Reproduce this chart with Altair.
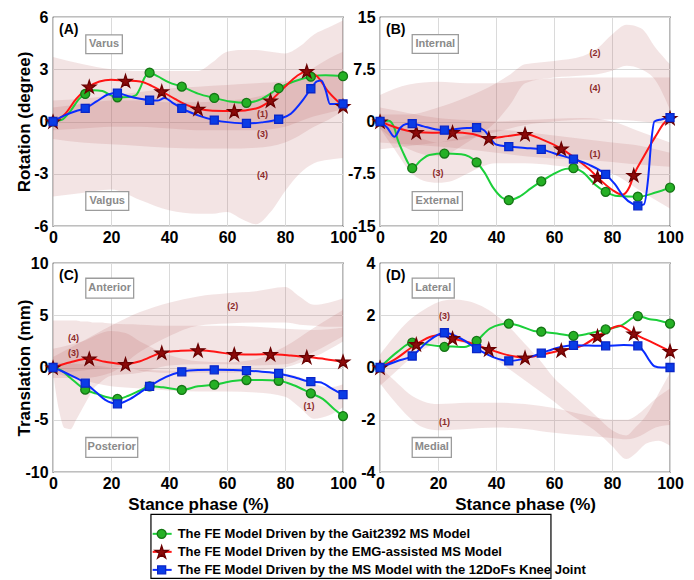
import altair as alt
import pandas as pd

FONT = "Liberation Sans"

LEGEND_LABELS = [
    "The FE Model Driven by the Gait2392 MS Model",
    "The FE Model Driven by the EMG-assisted MS Model",
    "The FE Model Driven by the MS Model with the 12DoFs Knee Joint",
]
LINE_COLORS = ["#1ccf3a", "#ff1414", "#0a2cff"]
MK_FILL = ["#25b025", "#8c0a0a", "#0a3ce6"]
MK_STROKE = ["#157515", "#6a0000", "#0a26c8"]
STAR = ("M0,-0.905L0.2245,-0.214L0.951,-0.214L0.3633,0.213L0.588,0.904L0,0.477"
        "L-0.588,0.904L-0.3633,0.213L-0.951,-0.214L-0.2245,-0.214Z")
MK_SHAPES = ["circle", STAR, "square"]
MK_SIZES = [80, 190, 64]

X_TICKS = [0, 20, 40, 60, 80, 100]
MK_X_GB = [0, 11.1, 22.2, 33.3, 44.4, 55.6, 66.7, 77.8, 88.9, 100]
MK_X_R = [0, 12.5, 25, 37.5, 50, 62.5, 75, 87.5, 100]

# ---------------- Panel A : varus/valgus rotation ----------------
A_G_MK = [0, 1.58, 1.39, 2.8, 2.0, 1.35, 1.07, 1.91, 2.57, 2.6]
A_R_MK = [0, 2.0, 2.33, 1.73, 0.73, 0.6, 1.2, 2.89, 0.88]
A_B_MK = [0, 0.75, 1.63, 1.22, 0.75, 0.08, -0.11, 0.13, 1.88, 1.01]
A_G_X = [0, 3, 6, 9, 11.1, 14, 17, 20, 22.2, 26, 28.5, 30, 31.5, 33.3, 36, 40, 44.4, 50, 55.6, 61, 66.7, 72, 77.8, 83, 88.9, 94, 100]
A_G_Y = [0, 0.1, 0.6, 1.3, 1.58, 1.8, 1.75, 1.5, 1.39, 1.4, 1.5, 1.9, 2.5, 2.8, 2.6, 2.25, 2.0, 1.6, 1.35, 1.15, 1.07, 1.3, 1.91, 2.3, 2.57, 2.65, 2.6]
A_R_X = [0, 4, 8, 12.5, 16, 20, 25, 30, 34, 37.5, 42, 46, 50, 55, 62.5, 70, 75, 80, 84, 87.5, 91, 95, 100]
A_R_Y = [0, 0.4, 1.3, 2.0, 2.3, 2.4, 2.35, 2.3, 2.05, 1.73, 1.3, 0.95, 0.73, 0.62, 0.6, 0.75, 1.2, 2.0, 2.6, 2.89, 2.6, 1.7, 0.88]
A_B_X = [0, 4, 8, 11.1, 15, 19, 22.2, 26, 30, 33.3, 36, 38.5, 41, 44.4, 50, 55.6, 61, 66.7, 72, 77.8, 82, 86, 88.9, 91, 92.5, 94, 95.5, 100]
A_B_Y = [0, 0.35, 0.6, 0.75, 1.15, 1.55, 1.63, 1.45, 1.3, 1.22, 1.2, 1.35, 1.1, 0.75, 0.35, 0.08, -0.05, -0.11, -0.05, 0.13, 0.45, 1.2, 1.88, 2.3, 2.35, 1.8, 1.0, 1.0]
A_BAND1_X = [0, 10, 20, 30, 40, 50, 60, 70, 80, 85, 90, 95, 100]
A_BAND1_LO = [-0.5, -0.4, -0.3, -0.3, -0.4, -0.5, -0.5, -0.5, -0.3, 0.0, 0.3, 0.5, 0.7]
A_BAND1_HI = [0.8, 1.0, 1.2, 1.2, 1.1, 1.1, 1.2, 1.4, 2.0, 2.6, 3.1, 3.6, 4.0]
A_BAND3_X = [0, 10, 20, 30, 40, 50, 60, 70, 80, 85, 90, 95, 100]
A_BAND3_LO = [-1.0, -1.2, -1.3, -1.4, -1.5, -1.55, -1.55, -1.5, -1.2, -0.8, -0.3, 0.1, 0.6]
A_BAND3_HI = [1.2, 1.3, 1.5, 1.7, 1.9, 2.0, 2.1, 2.2, 2.3, 2.4, 2.5, 2.6, 2.7]
A_BAND4_X = [0, 10, 20, 30, 40, 50, 55, 60, 65, 70, 75, 80, 85, 90, 95, 100]
A_BAND4_LO = [-4.3, -4.1, -3.9, -4.5, -5.1, -5.3, -5.3, -5.2, -5.6, -5.9, -5.2, -4.0, -3.0, -2.4, -2.2, -2.1]
A_BAND4_HI = [3.7, 3.3, 3.0, 2.9, 2.9, 2.9, 3.4, 4.0, 4.1, 4.1, 4.0, 3.9, 4.3, 5.0, 5.4, 5.8]

# ---------------- Panel B : internal/external rotation ----------------
B_G_MK = [0, -6.7, -4.6, -5.85, -11.3, -8.6, -6.7, -10.1, -10.8, -9.5]
B_R_MK = [0, -1.54, -1.54, -2.4, -1.8, -3.9, -8.0, -7.7, 0.5]
B_B_MK = [0, -0.3, -1.25, -0.87, -3.6, -4.0, -5.4, -7.6, -12.1, 0.56]
B_G_X = [0, 3, 5, 6, 8, 9.5, 11.1, 14, 17, 22.2, 28, 33.3, 36, 39, 42, 44.4, 48, 52, 55.6, 60, 64, 66.7, 70, 74, 77.8, 82, 88.9, 95, 100]
B_G_Y = [0, 0.1, -1.0, -2.5, -4.5, -5.8, -6.7, -5.6, -4.8, -4.6, -4.7, -5.85, -7.3, -9.5, -10.9, -11.3, -10.8, -9.6, -8.6, -7.5, -6.8, -6.7, -7.3, -9.0, -10.1, -10.7, -10.8, -10.2, -9.5]
B_R_X = [0, 5, 12.5, 18, 25, 32, 37.5, 44, 50, 56, 62.5, 68, 72, 75, 80, 83.5, 86, 87.5, 91, 93, 95.5, 97.5, 100]
B_R_Y = [0, -0.8, -1.54, -1.6, -1.54, -1.8, -2.4, -2.1, -1.8, -2.6, -3.9, -5.5, -6.8, -8.0, -9.8, -10.5, -9.4, -7.7, -5.0, -3.5, -1.8, -0.45, 0.5]
B_B_X = [0, 2.5, 5, 7, 9, 11.1, 15, 19, 22.2, 27, 30, 33.3, 36, 38, 40, 44.4, 50, 55.6, 61, 66.7, 72, 77.8, 81, 84, 87, 88.9, 91, 92.5, 93.5, 94.6, 97, 100]
B_B_Y = [0, -0.9, -2.2, -0.9, -0.35, -0.3, -0.7, -1.1, -1.25, -1.05, -0.95, -0.87, -1.3, -2.4, -3.3, -3.6, -3.8, -4.0, -4.7, -5.4, -6.2, -7.6, -9.0, -10.8, -11.8, -12.1, -11.9, -8.0, -3.0, 0.0, 0.3, 0.56]
B_BAND1_X = [0, 10, 20, 30, 40, 50, 60, 70, 80, 90, 100]
B_BAND1_LO = [-3.0, -3.3, -3.6, -4.0, -4.5, -5.0, -5.3, -5.5, -5.8, -6.2, -6.5]
B_BAND1_HI = [2.0, 1.2, 0.5, 0.2, 0.0, 0.2, 0.4, 0.5, 0.0, -1.5, -3.0]
B_BAND2_X = [0, 10, 20, 30, 40, 45, 50, 60, 70, 75, 80, 85, 90, 95, 100]
B_BAND2_LO = [-1.0, -4.0, -5.0, -3.0, 0.0, 2.5, 5.5, 6.3, 6.6, 6.8, 7.3, 8.0, 7.5, 5.9, 1.7]
B_BAND2_HI = [1.0, 1.0, 2.0, 3.5, 5.5, 6.8, 8.2, 8.7, 9.4, 10.5, 12.5, 13.9, 13.4, 10.6, 8.2]
B_BAND3_X = [0, 5, 10, 15, 20, 25, 30, 35, 40, 50, 60, 70, 80, 90, 100]
B_BAND3_LO = [-1.0, -4.0, -7.0, -8.5, -8.8, -8.5, -7.5, -6.5, -6.0, -6.0, -6.3, -6.8, -7.5, -10.0, -12.5]
B_BAND3_HI = [1.0, -0.5, -1.5, -2.5, -3.0, -2.5, -2.0, -1.5, -1.2, -1.5, -2.0, -2.5, -3.0, -3.5, -4.5]
B_BAND4_X = [0, 10, 20, 30, 40, 50, 60, 70, 80, 90, 100]
B_BAND4_LO = [-4.0, -3.5, -3.0, -2.5, -1.5, -0.5, 0.0, 0.3, 0.3, 0.0, -0.5]
B_BAND4_HI = [3.8, 5.3, 5.7, 5.5, 5.5, 5.9, 6.2, 6.3, 6.3, 6.3, 6.3]

# ---------------- Panel C : anterior/posterior translation ----------------
C_G_MK = [0, -2.12, -3.0, -1.8, -2.15, -1.65, -1.2, -1.27, -2.47, -4.65]
C_R_MK = [0, 0.85, 0.32, 1.42, 1.65, 1.27, 1.27, 1.0, 0.57]
C_B_MK = [0, -1.5, -3.48, -1.8, -0.41, -0.22, -0.3, -0.57, -1.36, -2.6]
C_G_X = [0, 3, 6, 11.1, 15, 18, 22.2, 26, 30, 33.3, 38, 44.4, 50, 55.6, 62, 66.7, 72, 77.8, 83, 88.9, 93, 97, 100]
C_G_Y = [0, -0.3, -1.0, -2.12, -2.5, -2.8, -3.0, -2.7, -2.2, -1.8, -1.9, -2.15, -1.8, -1.65, -1.3, -1.2, -1.2, -1.27, -1.7, -2.47, -3.0, -4.0, -4.65]
C_R_X = [0, 6, 12.5, 18, 25, 30, 37.5, 44, 50, 56, 62.5, 70, 75, 82, 87.5, 94, 100]
C_R_Y = [0, 0.5, 0.85, 0.55, 0.32, 0.6, 1.42, 1.6, 1.65, 1.5, 1.27, 1.25, 1.27, 1.15, 1.0, 0.8, 0.57]
C_B_X = [0, 5, 11.1, 15, 18, 22.2, 26, 30, 33.3, 39, 44.4, 50, 55.6, 62, 66.7, 72, 77.8, 84, 88.9, 92, 96, 100]
C_B_Y = [0, -0.6, -1.5, -2.4, -3.1, -3.48, -3.1, -2.4, -1.8, -0.9, -0.41, -0.25, -0.22, -0.25, -0.3, -0.4, -0.57, -1.0, -1.36, -1.4, -2.0, -2.6]
C_BAND1_X = [0, 10, 20, 30, 40, 50, 60, 70, 80, 85, 90, 95, 100]
C_BAND1_LO = [-0.5, -1.2, -1.8, -2.0, -2.2, -2.3, -2.3, -2.4, -2.8, -3.8, -4.9, -4.6, -3.8]
C_BAND1_HI = [0.5, 0.3, 0.0, -0.2, -0.3, -0.3, -0.3, -0.4, -0.6, -0.9, -1.5, -1.9, -1.6]
C_BAND2_X = [0, 10, 20, 30, 40, 50, 60, 70, 80, 85, 90, 95, 100]
C_BAND2_LO = [-1.0, -1.0, -0.5, 1.5, 3.0, 4.0, 4.2, 4.3, 4.3, 4.1, 4.0, 3.9, 3.9]
C_BAND2_HI = [1.0, 2.5, 4.0, 5.3, 6.2, 6.8, 7.1, 7.3, 7.7, 6.8, 6.0, 6.2, 6.6]
C_BAND3_X = [0, 10, 20, 25, 30, 40, 50, 60, 70, 80, 90, 100]
C_BAND3_LO = [-0.5, -0.3, 0.0, 0.0, -0.3, -0.5, -0.5, -0.5, -0.3, 0.0, 1.0, 2.5]
C_BAND3_HI = [1.8, 2.5, 3.5, 3.3, 2.5, 1.2, 0.6, 0.5, 0.8, 2.0, 3.8, 5.5]
C_BAND4_X = [0, 2, 4, 6, 8, 10, 12, 14, 16, 20, 30, 40, 50, 60, 70, 80, 90, 100]
C_BAND4_LO = [-0.5, -4.0, -5.8, -5.9, -5.0, -4.0, -3.0, -2.0, -1.5, -0.8, -0.5, 0.2, 0.3, 0.3, 0.2, 0.3, 1.5, 3.0]
C_BAND4_HI = [4.5, 4.5, 4.5, 4.5, 4.5, 4.4, 4.4, 4.3, 4.3, 4.2, 4.1, 4.0, 4.0, 4.0, 3.9, 3.7, 3.6, 3.8]

# ---------------- Panel D : lateral/medial translation ----------------
D_G_MK = [0, 0.95, 0.79, 1.02, 1.68, 1.37, 1.21, 1.46, 1.97, 1.68]
D_R_MK = [0, 0.89, 1.12, 0.7, 0.38, 0.66, 1.2, 1.3, 0.63]
D_B_MK = [0, 0.44, 1.33, 0.72, 0.25, 0.55, 0.85, 0.83, 0.83, 0.0]
D_G_X = [0, 6, 11.1, 15, 20, 25, 29, 33.3, 38, 44.4, 48, 53, 55.6, 61, 66.7, 72, 77.8, 83, 88.9, 93, 96, 100]
D_G_Y = [0, 0.6, 0.95, 0.9, 0.82, 0.8, 0.78, 1.02, 1.5, 1.68, 1.6, 1.4, 1.37, 1.3, 1.21, 1.3, 1.46, 1.6, 1.97, 1.85, 1.8, 1.68]
D_R_X = [0, 5, 12.5, 18, 22, 25, 31, 37.5, 45, 50, 56, 62.5, 70, 75, 79, 82.5, 87.5, 94, 100]
D_R_Y = [0, 0.3, 0.89, 1.2, 1.25, 1.12, 0.95, 0.7, 0.45, 0.38, 0.5, 0.66, 0.85, 1.2, 1.45, 1.6, 1.3, 0.95, 0.63]
D_B_X = [0, 6, 11.1, 16, 22.2, 28, 33.3, 39, 44.4, 50, 55.6, 61, 66.7, 72, 77.8, 84, 88.9, 91, 93, 94.6, 97, 100]
D_B_Y = [0, 0.25, 0.44, 0.95, 1.33, 1.1, 0.72, 0.4, 0.25, 0.35, 0.55, 0.75, 0.85, 0.84, 0.83, 0.86, 0.83, 0.6, 0.25, 0.05, 0.0, 0.0]
D_BAND1_X = [0, 5, 10, 15, 20, 30, 40, 50, 60, 70, 80, 85, 90, 95, 100]
D_BAND1_LO = [-0.6, -1.3, -1.9, -2.3, -2.4, -2.35, -2.3, -2.35, -2.5, -2.6, -2.7, -2.75, -2.6, -2.3, -2.2]
D_BAND1_HI = [0.0, -0.5, -1.0, -1.3, -1.4, -1.35, -1.35, -1.4, -1.55, -1.8, -2.0, -2.0, -1.7, -1.2, -0.8]
D_BAND3_X = [0, 5, 10, 15, 20, 25, 30, 35, 40, 45, 50, 55, 60, 65, 70, 75, 80, 85, 88, 92, 96, 100]
D_BAND3_LO = [-0.7, -0.2, 0.3, 0.7, 0.9, 1.0, 0.9, 0.6, 0.3, -0.1, -0.5, -0.9, -1.3, -1.75, -2.1, -2.5, -3.0, -3.5, -3.3, -2.9, -2.8, -3.0]
D_BAND3_HI = [0.5, 1.2, 1.8, 2.2, 2.5, 2.6, 2.55, 2.35, 2.0, 1.5, 0.9, 0.3, -0.4, -0.9, -1.4, -1.9, -2.4, -2.6, -2.3, -1.8, -1.0, -0.2]

PANELS = [
    dict(key="(A)", ydom=[-6, 6], yticks=[-6, -3, 0, 3, 6], ytitle="Rotation (degree)", xtitle=None,
         lines=[(A_G_X, A_G_Y), (A_R_X, A_R_Y), (A_B_X, A_B_Y)],
         marks=[(MK_X_GB, A_G_MK), (MK_X_R, A_R_MK), (MK_X_GB, A_B_MK)],
         bands=[(A_BAND1_X, A_BAND1_LO, A_BAND1_HI), (A_BAND3_X, A_BAND3_LO, A_BAND3_HI),
                (A_BAND4_X, A_BAND4_LO, A_BAND4_HI)],
         blabels=[("(1)", 72.2, 0.41), ("(3)", 72.2, -0.71), ("(4)", 72.2, -3.1)],
         notes=[("Varus", 11.3, 23.9, 3.9, 4.97), ("Valgus", 11.3, 26.1, -5.1, -4.03)]),
    dict(key="(B)", ydom=[-15, 15], yticks=[-15, -7.5, 0, 7.5, 15], ytitle=None, xtitle=None,
         lines=[(B_G_X, B_G_Y), (B_R_X, B_R_Y), (B_B_X, B_B_Y)],
         marks=[(MK_X_GB, B_G_MK), (MK_X_R, B_R_MK), (MK_X_GB, B_B_MK)],
         bands=[(B_BAND1_X, B_BAND1_LO, B_BAND1_HI), (B_BAND2_X, B_BAND2_LO, B_BAND2_HI),
                (B_BAND3_X, B_BAND3_LO, B_BAND3_HI), (B_BAND4_X, B_BAND4_LO, B_BAND4_HI)],
         blabels=[("(2)", 74.1, 9.8), ("(4)", 74.1, 4.8), ("(1)", 74.1, -4.7), ("(3)", 20, -7.4)],
         notes=[("Internal", 11.1, 27.0, 9.79, 12.46), ("External", 11.1, 28.4, -12.75, -10.07)]),
    dict(key="(C)", ydom=[-10, 10], yticks=[-10, -5, 0, 5, 10], ytitle="Translation (mm)", xtitle="Stance phase (%)",
         lines=[(C_G_X, C_G_Y), (C_R_X, C_R_Y), (C_B_X, C_B_Y)],
         marks=[(MK_X_GB, C_G_MK), (MK_X_R, C_R_MK), (MK_X_GB, C_B_MK)],
         bands=[(C_BAND1_X, C_BAND1_LO, C_BAND1_HI), (C_BAND2_X, C_BAND2_LO, C_BAND2_HI),
                (C_BAND3_X, C_BAND3_LO, C_BAND3_HI), (C_BAND4_X, C_BAND4_LO, C_BAND4_HI)],
         blabels=[("(2)", 62, 5.9), ("(4)", 7.1, 2.85), ("(3)", 7.1, 1.36), ("(1)", 88.3, -3.64)],
         notes=[("Anterior", 11.3, 27.8, 6.64, 8.54), ("Posterior", 11.3, 29.2, -8.6, -6.7)]),
    dict(key="(D)", ydom=[-4, 4], yticks=[-4, -2, 0, 2, 4], ytitle=None, xtitle="Stance phase (%)",
         lines=[(D_G_X, D_G_Y), (D_R_X, D_R_Y), (D_B_X, D_B_Y)],
         marks=[(MK_X_GB, D_G_MK), (MK_X_R, D_R_MK), (MK_X_GB, D_B_MK)],
         bands=[(D_BAND1_X, D_BAND1_LO, D_BAND1_HI), (D_BAND3_X, D_BAND3_LO, D_BAND3_HI)],
         blabels=[("(3)", 22.2, 1.97), ("(1)", 22.2, -2.07)],
         notes=[("Lateral", 11.1, 25.6, 2.66, 3.42), ("Medial", 11.1, 24.6, -3.44, -2.68)]),
]

W, H = 290, 209


def make_panel(p):
    xenc = alt.X("x:Q", scale=alt.Scale(domain=[0, 100], nice=False, zero=False),
                 axis=alt.Axis(values=X_TICKS, title=p["xtitle"], labelOverlap=False,
                               labelFlush=False, labelBound=False, labelExpr="datum.value + ''"))
    yaxis_kw = dict(values=p["yticks"], title=p["ytitle"], labelOverlap=False,
                    labelFlush=False, labelBound=False, labelExpr="datum.value + ''")
    if p["ytitle"]:
        yaxis_kw.update(titleX=-20, titleY=H / 2)
    yenc = alt.Y("y:Q", scale=alt.Scale(domain=p["ydom"], nice=False, zero=False),
                 axis=alt.Axis(**yaxis_kw), stack=None)
    layers = []
    for xs, lo, hi in p["bands"]:
        df = pd.DataFrame({"x": xs, "y": lo, "y2": hi})
        layers.append(alt.Chart(df).mark_area(
            interpolate="monotone", clip=True, fill="#bd6a6a", fillOpacity=0.18, strokeWidth=0
        ).encode(x=xenc, y=yenc, y2="y2:Q"))

    bl = pd.DataFrame([{"t": t, "x": x, "y": y} for t, x, y in p["blabels"]])
    layers.append(alt.Chart(bl).mark_text(font=FONT, fontSize=9, fontWeight="bold", color="#8b2a2a").encode(
        x=xenc, y=yenc, text="t:N"))

    nb = pd.DataFrame([{"x": x1, "x2": x2, "y": y1, "y2": y2} for t, x1, x2, y1, y2 in p["notes"]])
    layers.append(alt.Chart(nb).mark_rect(fill="white", stroke="#9c9c9c", strokeWidth=1.3).encode(
        x=xenc, x2="x2:Q", y=yenc, y2="y2:Q"))
    ntx = pd.DataFrame([{"t": t, "x": (x1 + x2) / 2, "y": (y1 + y2) / 2} for t, x1, x2, y1, y2 in p["notes"]])
    layers.append(alt.Chart(ntx).mark_text(font=FONT, fontSize=11, fontWeight="bold", color="#8a8a8a").encode(
        x=xenc, y=yenc, text="t:N"))

    for i, (xs, ys) in enumerate(p["lines"]):
        df = pd.DataFrame({"x": xs, "y": ys})
        layers.append(alt.Chart(df).mark_line(
            interpolate="monotone", strokeWidth=2, clip=True, color=LINE_COLORS[i]
        ).encode(x=xenc, y=yenc))
    for i, (xs, ys) in enumerate(p["marks"]):
        df = pd.DataFrame({"x": xs, "y": ys})
        layers.append(alt.Chart(df).mark_point(
            filled=True, fill=MK_FILL[i], stroke=MK_STROKE[i], strokeWidth=1.3, opacity=1,
            shape=MK_SHAPES[i], size=MK_SIZES[i]
        ).encode(x=xenc, y=yenc))

    layers.append(alt.Chart(pd.DataFrame({"t": [p["key"]]})).mark_text(
        font=FONT, fontSize=14, fontWeight="bold", align="left", baseline="top", color="black"
    ).encode(x=alt.value(6), y=alt.value(6), text="t:N"))

    return alt.layer(*layers).properties(width=W, height=H)


grid = alt.concat(*[make_panel(p) for p in PANELS], columns=2,
                  spacing={"row": 37, "column": 37}, bounds="flush")

# ---------------- legend box ----------------
leg_df = pd.DataFrame({"row": [0, 1, 2], "label": LEGEND_LABELS})
ly = alt.Y("row:Q", scale=alt.Scale(domain=[-1.1, 2.45], reverse=True, nice=False, zero=False), axis=None)
leg_layers = []
for i in range(3):
    sub = leg_df[leg_df["row"] == i]
    leg_layers.append(alt.Chart(sub).mark_rule(strokeWidth=2, color=LINE_COLORS[i]).encode(
        x=alt.value(2), x2=alt.value(21), y=ly))
    leg_layers.append(alt.Chart(sub).mark_point(
        filled=True, fill=MK_FILL[i], stroke=MK_STROKE[i], strokeWidth=1.3, opacity=1,
        shape=MK_SHAPES[i], size=MK_SIZES[i]).encode(x=alt.value(11), y=ly))
leg_layers.append(alt.Chart(leg_df).mark_text(
    font=FONT, fontSize=13, fontWeight="bold", align="left", baseline="middle", color="black"
).encode(x=alt.value(27), y=ly, text="label:N"))
legend = alt.layer(*leg_layers).properties(width=400, height=64)

chart = alt.vconcat(grid, legend, spacing=0, center=True).properties(
    padding={"left": 6, "top": 0, "right": 2, "bottom": 0}
).configure_view(stroke="black", strokeWidth=1.2).configure_axis(
    labelFont=FONT, labelFontSize=16, labelFontWeight="bold", labelColor="black",
    titleFont=FONT, titleFontSize=17, titleFontWeight="bold", titleColor="black",
    grid=True, gridColor="#dadada", gridWidth=1, domain=False, ticks=False, labelPadding=5,
    titlePadding=2,
).configure_axisX(labelPadding=3, titlePadding=5)

chart.save("out.html", embed_options={"renderer": "svg", "actions": False})
